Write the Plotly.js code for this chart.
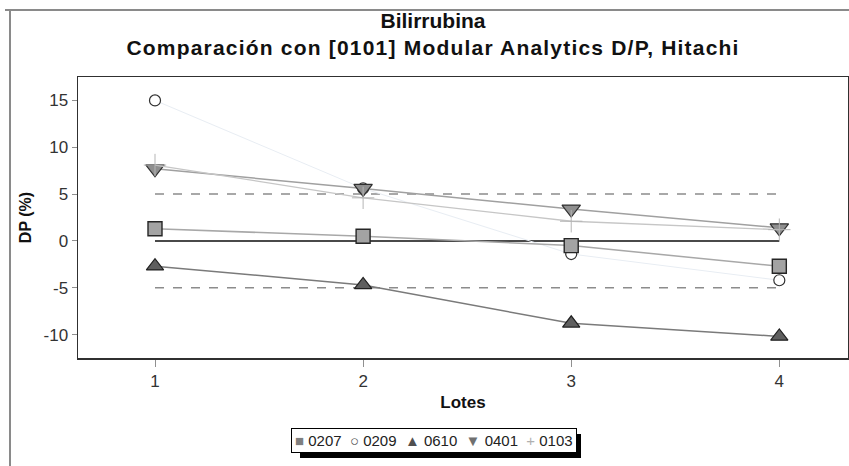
<!DOCTYPE html>
<html>
<head>
<meta charset="utf-8">
<script src="https://cdn.plot.ly/plotly-3.0.1.min.js"></script>
<style>
  html, body { margin: 0; padding: 0; background: #ffffff; }
  #chart { width: 849px; height: 466px; }
</style>
</head>
<body>
<div id="chart"></div>
<script>
// ---- data ----
const lotes = [1, 2, 3, 4];
const seriesNames = ["0207", "0209", "0610", "0401", "0103"];
const s0207 = [1.3, 0.5, -0.5, -2.7];
const s0209 = [15.0, 5.6, -1.4, -4.2];
const s0610 = [-2.7, -4.7, -8.8, -10.2];
const s0401 = [7.7, 5.6, 3.4, 1.4];
const s0103 = [8.1, 4.6, 2.1, 1.2];
const limitLevels = [5, -5];
const zeroLevel = [0];
const xTicks = [1, 2, 3, 4];
const yTicks = [-10, -5, 0, 5, 10, 15];

const FONT = "'Liberation Sans', Arial, sans-serif";

const traces = [
  {
    name: seriesNames[1], x: lotes, y: s0209, type: "scatter", mode: "lines+markers",
    line: { color: "#e8edf3", width: 1 },
    marker: { symbol: "circle", size: 11, color: "#ffffff", line: { color: "#303030", width: 1.2 } }
  },
  {
    name: seriesNames[2], x: lotes, y: s0610, type: "scatter", mode: "lines+markers",
    line: { color: "#7a7a7a", width: 1.5 },
    marker: { symbol: "triangle-up", size: 15, color: "#5f5f5f", line: { color: "#202020", width: 1.2 } }
  },
  {
    name: seriesNames[0], x: lotes, y: s0207, type: "scatter", mode: "lines+markers",
    line: { color: "#a8a8a8", width: 1.5 },
    marker: { symbol: "square", size: 14, color: "#a3a3a3", line: { color: "#262626", width: 1.4 } }
  },
  {
    name: seriesNames[3], x: lotes, y: s0401, type: "scatter", mode: "lines+markers",
    line: { color: "#a0a0a0", width: 1.5 },
    marker: { symbol: "triangle-down", size: 16, color: "#8f8f8f", line: { color: "#303030", width: 1.2 } }
  },
  {
    name: seriesNames[4], x: lotes, y: s0103, type: "scatter", mode: "lines+markers",
    line: { color: "#c6c6c6", width: 1.3 },
    marker: { symbol: "cross-thin", size: 16, color: "#b5b5b5", line: { color: "#b5b5b5", width: 1 } }
  }
];

const shapes = [];
// outer frame lines
shapes.push({ type: "line", xref: "paper", yref: "paper", x0: (5 - 78) / 770, x1: (849 - 78) / 770, y0: (358 - 10) / 281, y1: (358 - 10) / 281, line: { color: "#8a8a8a", width: 2 } });
shapes.push({ type: "line", xref: "paper", yref: "paper", x0: (10 - 78) / 770, x1: (10 - 78) / 770, y0: (358 - 10) / 281, y1: (358 - 470) / 281, line: { color: "#8a8a8a", width: 2 } });
// reference levels
limitLevels.forEach(v => shapes.push({ type: "line", xref: "x", yref: "y", layer: "below", x0: lotes[0], x1: lotes[lotes.length - 1], y0: v, y1: v, line: { color: "#8c8c8c", width: 1.5, dash: "dash" } }));
zeroLevel.forEach(v => shapes.push({ type: "line", xref: "x", yref: "y", layer: "below", x0: lotes[0], x1: lotes[lotes.length - 1], y0: v, y1: v, line: { color: "#4a4a4a", width: 2 } }));
// legend shadow
shapes.push({ type: "rect", xref: "paper", yref: "paper", x0: (300 - 78) / 770, x1: (581 - 78) / 770, y0: (358 - 458) / 281, y1: (358 - 434) / 281, fillcolor: "#000000", line: { width: 0 } });

// custom legend as annotation text
const legendSymbols = [
  '<span style="color:#7f7f7f">■</span>',
  '<span style="color:#505050">○</span>',
  '<span style="color:#505050">▲</span>',
  '<span style="color:#707070">▼</span>',
  '<span style="color:#b0b0b0">+</span>'
];
const legendText = seriesNames.map((n, i) => legendSymbols[i] + ' ' + n).join('  ');

const layout = {
  width: 849, height: 466,
  margin: { l: 78, r: 1, t: 77, b: 108 },
  paper_bgcolor: "#ffffff", plot_bgcolor: "#ffffff",
  showlegend: false,
  title: {
    text: "<b>Bilirrubina</b><br><span style=\"letter-spacing:1.2px\"><b>Comparación con [0101] Modular Analytics D/P, Hitachi</b></span>",
    font: { family: FONT, size: 21, color: "#111111" },
    x: 433 / 849, xanchor: "center",
    y: 1 - 28 / 466, yanchor: "top", yref: "container"
  },
  xaxis: {
    range: [0.63, 4.33], tickvals: xTicks, ticktext: xTicks.map(String),
    showgrid: false, zeroline: false,
    showline: true, linecolor: "#303030", linewidth: 1.5, mirror: true,
    ticks: "outside", ticklen: 7, tickcolor: "#909090", tickwidth: 1,
    tickfont: { family: FONT, size: 17, color: "#333333" },
    title: { text: "<b>Lotes</b>", font: { family: FONT, size: 17, color: "#111111" }, standoff: 6 }
  },
  yaxis: {
    range: [-12.5, 17.5], tickvals: yTicks, ticktext: yTicks.map(String),
    showgrid: false, zeroline: false,
    showline: true, linecolor: "#303030", linewidth: 1.5, mirror: true,
    ticks: "outside", ticklen: 5, tickcolor: "#909090", tickwidth: 1,
    tickfont: { family: FONT, size: 17, color: "#333333" },
    title: { text: "<b>DP (%)</b>", font: { family: FONT, size: 16, color: "#111111" }, standoff: 8 }
  },
  shapes: shapes,
  annotations: [{
    xref: "paper", yref: "paper",
    x: (433.5 - 78) / 770, y: (358 - 440) / 281,
    xanchor: "center", yanchor: "middle",
    text: legendText, showarrow: false,
    font: { family: FONT, size: 15, color: "#222222" },
    bgcolor: "#ffffff", bordercolor: "#000000", borderwidth: 1, borderpad: 3
  }]
};

Plotly.newPlot("chart", traces, layout, { displayModeBar: false, staticPlot: true });
</script>
</body>
</html>
